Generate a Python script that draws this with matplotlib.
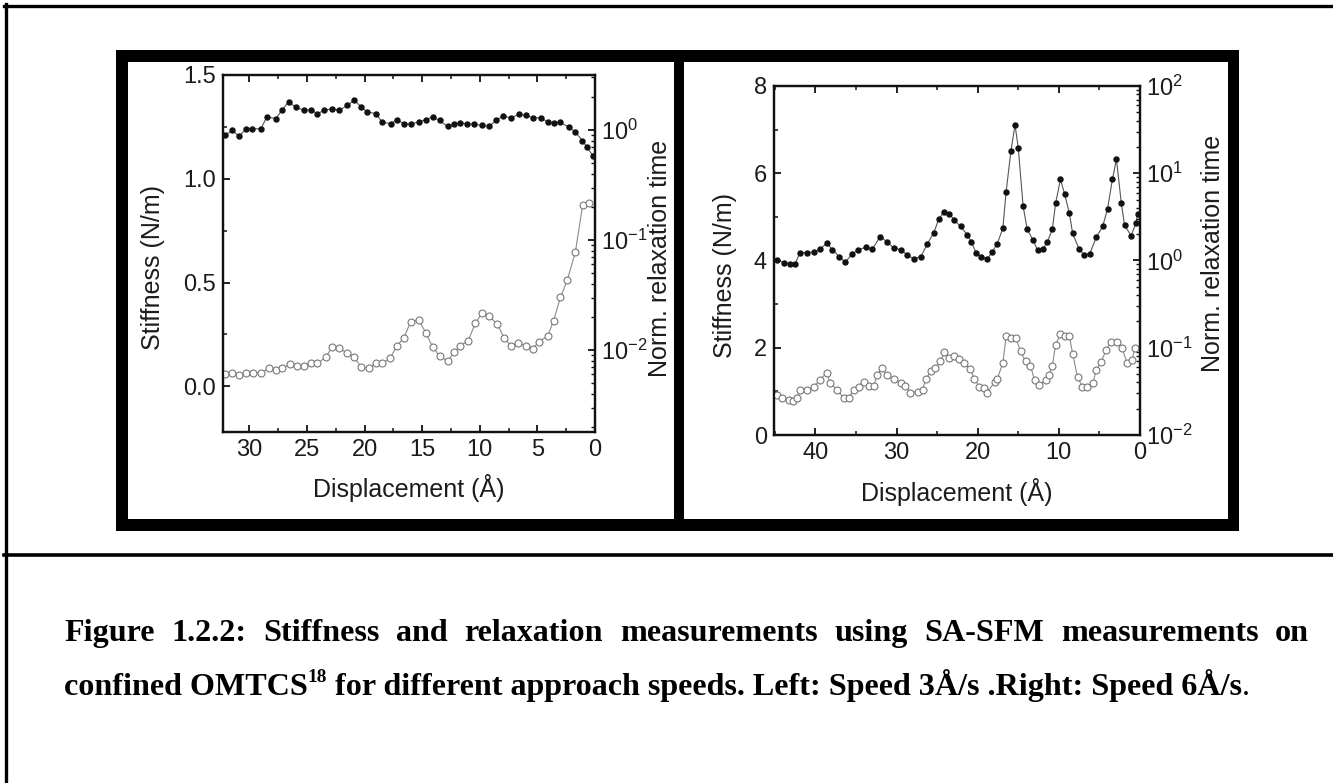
import matplotlib
matplotlib.use("Agg")
import matplotlib.pyplot as plt
from matplotlib.lines import Line2D
from matplotlib.patches import Rectangle
from matplotlib.ticker import MultipleLocator, LogLocator, NullFormatter

plt.rcParams["font.family"] = ["Liberation Sans", "DejaVu Sans"]
plt.rcParams["mathtext.fontset"] = "custom"
plt.rcParams["mathtext.rm"] = "Liberation Sans"
plt.rcParams["axes.unicode_minus"] = False

W, H = 1333, 783

# Left panel (3 A/s): stiffness (filled) and norm. relaxation time (open)
left_disp_k = [32.1, 31.5, 30.9, 30.3, 29.8, 29.0, 28.5, 27.7, 27.2, 26.6,
               26.0, 25.3, 24.7, 24.1, 23.5, 22.8, 22.2, 21.5, 20.9, 20.3,
               19.8, 19.0, 18.5, 17.7, 17.2, 16.6, 16.0, 15.3, 14.7, 14.1,
               13.5, 12.8, 12.2, 11.7, 11.1, 10.5, 9.8, 9.2, 8.6, 8.0,
               7.3, 6.6, 6.0, 5.4, 4.7, 4.1, 3.6, 3.0, 2.3, 1.7,
               1.1, 0.7, 0.2]
left_stiff = [1.209, 1.233, 1.204, 1.241, 1.241, 1.241, 1.298, 1.290, 1.330, 1.370,
              1.346, 1.330, 1.333, 1.314, 1.330, 1.338, 1.330, 1.354, 1.379, 1.346,
              1.322, 1.314, 1.273, 1.265, 1.285, 1.265, 1.265, 1.273, 1.285, 1.298,
              1.281, 1.252, 1.265, 1.269, 1.265, 1.262, 1.257, 1.252, 1.281, 1.301,
              1.294, 1.310, 1.306, 1.294, 1.294, 1.273, 1.269, 1.272, 1.249, 1.225,
              1.184, 1.152, 1.112]

left_disp_t = [32.1, 31.5, 30.9, 30.3, 29.7, 29.0, 28.3, 27.7, 27.2, 26.5,
               25.9, 25.3, 24.7, 24.1, 23.4, 22.8, 22.2, 21.5, 20.9, 20.3,
               19.6, 19.0, 18.5, 17.8, 17.2, 16.6, 16.0, 15.3, 14.7, 14.1,
               13.5, 12.8, 12.2, 11.7, 11.0, 10.4, 9.8, 9.2, 8.5, 7.9,
               7.3, 6.7, 6.0, 5.4, 4.9, 4.1, 3.6, 3.0, 2.4, 1.7,
               1.07, 0.49]
left_tau = [0.00605, 0.00614, 0.00593, 0.00622, 0.00622, 0.00622, 0.00681, 0.00658, 0.00681, 0.00746,
            0.00721, 0.00721, 0.00757, 0.00757, 0.00857, 0.0107, 0.0104, 0.00933, 0.00857, 0.00705,
            0.00681, 0.00767, 0.00757, 0.00839, 0.0109, 0.0129, 0.0181, 0.0187, 0.0144, 0.0107,
            0.00881, 0.00794, 0.00966, 0.0109, 0.0122, 0.0175, 0.0218, 0.0204, 0.0172, 0.0130,
            0.0109, 0.0117, 0.0109, 0.0102, 0.0119, 0.0134, 0.0185, 0.0301, 0.0433, 0.0783,
            0.208, 0.215]

# Right panel (6 A/s)
right_disp_k = [44.7, 43.9, 43.1, 42.5, 41.9, 41.0, 40.2, 39.4, 38.6, 37.9,
                37.1, 36.3, 35.5, 34.7, 33.8, 33.0, 32.0, 31.2, 30.3, 29.5,
                28.7, 27.9, 27.0, 26.2, 25.4, 24.8, 24.1, 23.5, 22.9, 22.1,
                21.3, 20.8, 20.2, 19.6, 18.8, 18.2, 17.6, 16.9, 16.5, 15.9,
                15.4, 15.0, 14.4, 13.9, 13.2, 12.6, 12.0, 11.4, 10.8, 10.4,
                9.8, 9.3, 8.7, 8.3, 7.5, 6.9, 6.2, 5.4, 4.6, 4.0,
                3.4, 2.9, 2.3, 1.9, 1.1, 0.5, 0.3]
right_stiff = [4.01, 3.95, 3.92, 3.92, 4.18, 4.18, 4.20, 4.26, 4.40, 4.25,
               4.09, 3.96, 4.15, 4.25, 4.30, 4.26, 4.55, 4.43, 4.28, 4.25,
               4.13, 4.04, 4.09, 4.38, 4.64, 4.95, 5.12, 5.07, 4.93, 4.78,
               4.59, 4.43, 4.18, 4.09, 4.04, 4.20, 4.38, 4.74, 5.57, 6.52,
               7.11, 6.58, 5.24, 4.72, 4.47, 4.23, 4.26, 4.43, 4.72, 5.31,
               5.86, 5.53, 5.08, 4.62, 4.26, 4.13, 4.15, 4.53, 4.78, 5.18,
               5.86, 6.32, 5.31, 4.81, 4.57, 4.85, 5.07]

right_disp_t = [44.7, 44.1, 43.3, 42.7, 42.3, 41.9, 41.0, 40.2, 39.4, 38.6,
                38.2, 37.3, 36.5, 35.9, 35.3, 34.6, 34.0, 33.4, 32.8, 32.4,
                31.8, 31.2, 30.3, 29.5, 28.9, 28.3, 27.4, 26.8, 26.4, 25.8,
                25.2, 24.6, 24.1, 23.5, 22.9, 22.3, 21.7, 20.9, 20.4, 19.8,
                19.2, 18.8, 17.9, 17.6, 16.9, 16.5, 15.9, 15.3, 14.7, 14.1,
                13.5, 13.0, 12.4, 11.6, 11.2, 10.8, 10.4, 9.8, 9.2, 8.7,
                8.3, 7.7, 7.1, 6.5, 5.8, 5.4, 4.8, 4.2, 3.6, 2.8,
                2.2, 1.6, 1.0, 0.6]
right_tau = [0.0288, 0.0264, 0.0252, 0.0248, 0.0264, 0.0329, 0.0329, 0.0359, 0.0429, 0.0520,
             0.0393, 0.0329, 0.0264, 0.0264, 0.0329, 0.0359, 0.0410, 0.0366, 0.0366, 0.0490,
             0.0585, 0.0490, 0.0437, 0.0393, 0.0366, 0.0306, 0.0315, 0.0329, 0.0437, 0.0535,
             0.0585, 0.0697, 0.0883, 0.0760, 0.0794, 0.0741, 0.0667, 0.0569, 0.0437, 0.0359,
             0.0344, 0.0306, 0.0410, 0.0437, 0.0667, 0.135, 0.129, 0.129, 0.0908, 0.0697,
             0.0621, 0.0429, 0.0376, 0.0429, 0.0490, 0.0621, 0.108, 0.145, 0.137, 0.135,
             0.0853, 0.0460, 0.0359, 0.0353, 0.0393, 0.0558, 0.0684, 0.0931, 0.115, 0.115,
             0.0991, 0.0667, 0.0728, 0.0991]

caption_line1 = ("Figure 1.2.2: Stiffness and relaxation measurements using "
                 "SA-SFM measurements on")
caption_line2 = ["confined OMTCS", "18",
                 " for different approach speeds. Left: Speed 3\u00c5/s .Right: Speed 6\u00c5/s", "."]

TXT = "#1c1c1c"


def fx(x):
    return x / W


def fy(y):
    return 1 - y / H


def rect(x0, y0, x1, y1, color, z):
    fig.add_artist(Rectangle((fx(x0), fy(y1)), (x1 - x0) / W, (y1 - y0) / H,
                             transform=fig.transFigure, facecolor=color,
                             edgecolor="none", zorder=z))


def hline(x0, x1, y, lw=2.2):
    fig.add_artist(Line2D([fx(x0), fx(x1)], [fy(y), fy(y)], color="black",
                          lw=lw, transform=fig.transFigure, zorder=-3))


def vline(x, y0, y1, lw=2.2):
    fig.add_artist(Line2D([fx(x), fx(x)], [fy(y0), fy(y1)], color="black",
                          lw=lw, transform=fig.transFigure, zorder=-3))


def style_axes(ax, tw):
    for ax_ in (ax, tw):
        for s in ax_.spines.values():
            s.set_linewidth(1.6)
            s.set_color("#111111")
    ax.tick_params(which="both", direction="in", top=True, bottom=True,
                   labelsize=17, pad=5, labelcolor=TXT, color="#111111")
    ax.tick_params(which="major", length=5, width=1.3)
    ax.tick_params(which="minor", length=3, width=1.1)
    tw.set_yscale("log")
    tw.yaxis.set_major_locator(LogLocator(base=10))
    tw.yaxis.set_minor_locator(LogLocator(base=10, subs=range(2, 10)))
    tw.yaxis.set_minor_formatter(NullFormatter())
    tw.tick_params(which="both", direction="in", labelsize=17, pad=4,
                   labelcolor=TXT, color="#111111")
    tw.tick_params(which="major", length=5, width=1.3)
    tw.tick_params(which="minor", length=3, width=1.0)


def draw_panel(ax, dk, stiff, dt, tau):
    tw = ax.twinx()
    ax.plot(dk, stiff, "-", color="#555555", lw=0.8, marker="o", ms=3.6,
            mfc="#111111", mec="#111111", zorder=3)
    tw.plot(dt, tau, "-", color="#8a8a8a", lw=0.8, marker="o", ms=5,
            mfc="white", mec="#777777", mew=0.8)
    style_axes(ax, tw)
    return tw


fig = plt.figure(figsize=(W / 100, H / 100), dpi=100)

# page rules
hline(4, W, 5.5, lw=2.4)
vline(5.5, 4, H, lw=2.4)
hline(4, W, 555, lw=2.6)

# thick figure frame
rect(116, 50, 1239, 531, "black", -2)
rect(128, 62, 674, 519, "white", -1)
rect(684, 62, 1228, 519, "white", -1)

# left panel
axL = fig.add_axes([fx(223), fy(432), (595 - 223) / W, (432 - 75) / H])
twL = draw_panel(axL, left_disp_k, left_stiff, left_disp_t, left_tau)
axL.set_xlim(32.3, 0)
axL.set_ylim(-0.22, 1.5)
twL.set_ylim(1.8e-3, 3.16)
axL.xaxis.set_major_locator(MultipleLocator(5))
axL.xaxis.set_minor_locator(MultipleLocator(2.5))
axL.yaxis.set_major_locator(MultipleLocator(0.5))
axL.yaxis.set_minor_locator(MultipleLocator(0.25))
axL.yaxis.set_major_formatter(lambda v, p: f"{v:.1f}")

# right panel
axR = fig.add_axes([fx(774), fy(435), (1140 - 774) / W, (435 - 86) / H])
twR = draw_panel(axR, right_disp_k, right_stiff, right_disp_t, right_tau)
axR.set_xlim(45.1, 0)
axR.set_ylim(0, 8)
twR.set_ylim(1e-2, 1e2)
axR.xaxis.set_major_locator(MultipleLocator(10))
axR.xaxis.set_minor_locator(MultipleLocator(5))
axR.yaxis.set_major_locator(MultipleLocator(2))
axR.yaxis.set_minor_locator(MultipleLocator(1))

# axis labels
label_kw = dict(fontsize=18, color=TXT)
for ax, tw, ky, kx, ty, tx, xy in [
    (axL, twL, 0.462, -0.188, 0.485, 1.175, -0.157),
    (axR, twR, 0.458, -0.134, 0.519, 1.199, -0.163),
]:
    ax.set_ylabel("Stiffness (N/m)", **label_kw)
    ax.yaxis.set_label_coords(kx, ky)
    tw.set_ylabel("Norm. relaxation time", **label_kw)
    tw.yaxis.set_label_coords(tx, ty)
    ax.set_xlabel("Displacement (\u00c5)", **label_kw)
    ax.xaxis.set_label_coords(0.5, xy)
    for lab in (ax.yaxis.label, tw.yaxis.label, ax.xaxis.label):
        lab.set_verticalalignment("center")
        lab.set_horizontalalignment("center")

# caption (Times-like bold, justified first line)
renderer = fig.canvas.get_renderer()
serif = ["Liberation Serif", "DejaVu Serif"]


def put(x, y, s, size, weight="bold"):
    return fig.text(fx(x), fy(y), s, ha="left", va="baseline",
                    family=serif, fontsize=size, fontweight=weight, color="black")


def width(t):
    return t.get_window_extent(renderer).width


# fit the size so the second (unjustified) line spans 64..1250 px
base = 17.0
probe = [put(0, 0, s, base * (0.6 if i == 1 else 1.0),
             "normal" if i == 3 else "bold") for i, s in enumerate(caption_line2)]
total = sum(width(t) for t in probe)
for t in probe:
    t.remove()
size = base * (1250 - 64) / total

x = 64
y2 = 695
for i, s in enumerate(caption_line2):
    if i == 1:
        t = put(x, y2 - size * 0.55, s, size * 0.6)
    elif i == 3:
        t = put(x, y2, s, size, "normal")
    else:
        t = put(x, y2, s, size)
    x += width(t)

words = caption_line1.split()
y1 = 641
wts = [put(0, y1, w, size) for w in words]
ws = [width(t) for t in wts]
gap = (1309 - 64 - sum(ws)) / (len(words) - 1)
x = 64
for t, w in zip(wts, ws):
    t.set_x(fx(x))
    x += w + gap

fig.savefig("out.png", dpi=100, facecolor="white")
